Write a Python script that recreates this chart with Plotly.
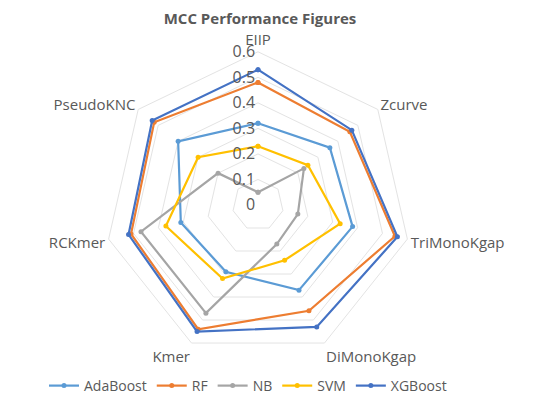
import plotly.graph_objects as go

categories = ["EIIP", "Zcurve", "TriMonoKgap", "DiMonoKgap", "Kmer", "RCKmer", "PseudoKNC"]
ada = [0.32, 0.36, 0.38, 0.37, 0.29, 0.31, 0.40]
rf = [0.48, 0.46, 0.55, 0.46, 0.54, 0.51, 0.52]
nb = [0.05, 0.23, 0.16, 0.17, 0.47, 0.47, 0.20]
svm = [0.23, 0.25, 0.33, 0.24, 0.32, 0.37, 0.30]
xgb = [0.53, 0.47, 0.56, 0.53, 0.55, 0.52, 0.53]
radial_ticks = [0, 0.1, 0.2, 0.3, 0.4, 0.5, 0.6]

series = [("AdaBoost", ada, "#5B9BD5"), ("RF", rf, "#ED7D31"), ("NB", nb, "#A5A5A5"),
          ("SVM", svm, "#FFC000"), ("XGBoost", xgb, "#4472C4")]

fig = go.Figure()
for name, vals, col in series:
    fig.add_trace(go.Scatterpolar(
        r=vals + vals[:1], theta=categories + categories[:1], name=name,
        mode="lines+markers", line=dict(color=col, width=2.2),
        marker=dict(color=col, size=5)))

W, H = 550, 394
cx, cy, R = 250, 198, 154
fig.update_layout(
    width=W, height=H, margin=dict(l=0, r=0, t=0, b=0),
    paper_bgcolor="white", plot_bgcolor="white",
    font=dict(family="Open Sans", color="#595959"),
    title=dict(text="<b>MCC Performance Figures</b>", x=252 / W, xanchor="center",
               y=1 - 11 / H, yanchor="middle", yref="container",
               font=dict(size=15, color="#595959")),
    polar=dict(
        domain=dict(x=[(cx - R) / W, (cx + R) / W], y=[(H - cy - R) / H, (H - cy + R) / H]),
        bgcolor="white", gridshape="linear",
        radialaxis=dict(range=[0, 0.6], tickvals=radial_ticks, angle=90, tickangle=90,
                        side="counterclockwise", showline=False, ticks="",
                        ticksuffix="\u00a0\u00a0",
                        gridcolor="#E3E3E3", gridwidth=1, tickfont=dict(size=16, color="#595959")),
        angularaxis=dict(rotation=90, direction="clockwise", showgrid=False,
                         linecolor="#E3E3E3", linewidth=1, ticks="",
                         tickfont=dict(size=15, color="#595959")),
    ),
    legend=dict(orientation="h", x=240 / W, xanchor="center", y=14 / H, yanchor="middle",
                font=dict(size=14, color="#595959"), itemwidth=30, tracegroupgap=0),
    showlegend=True,
)
fig.write_html("out.html")
